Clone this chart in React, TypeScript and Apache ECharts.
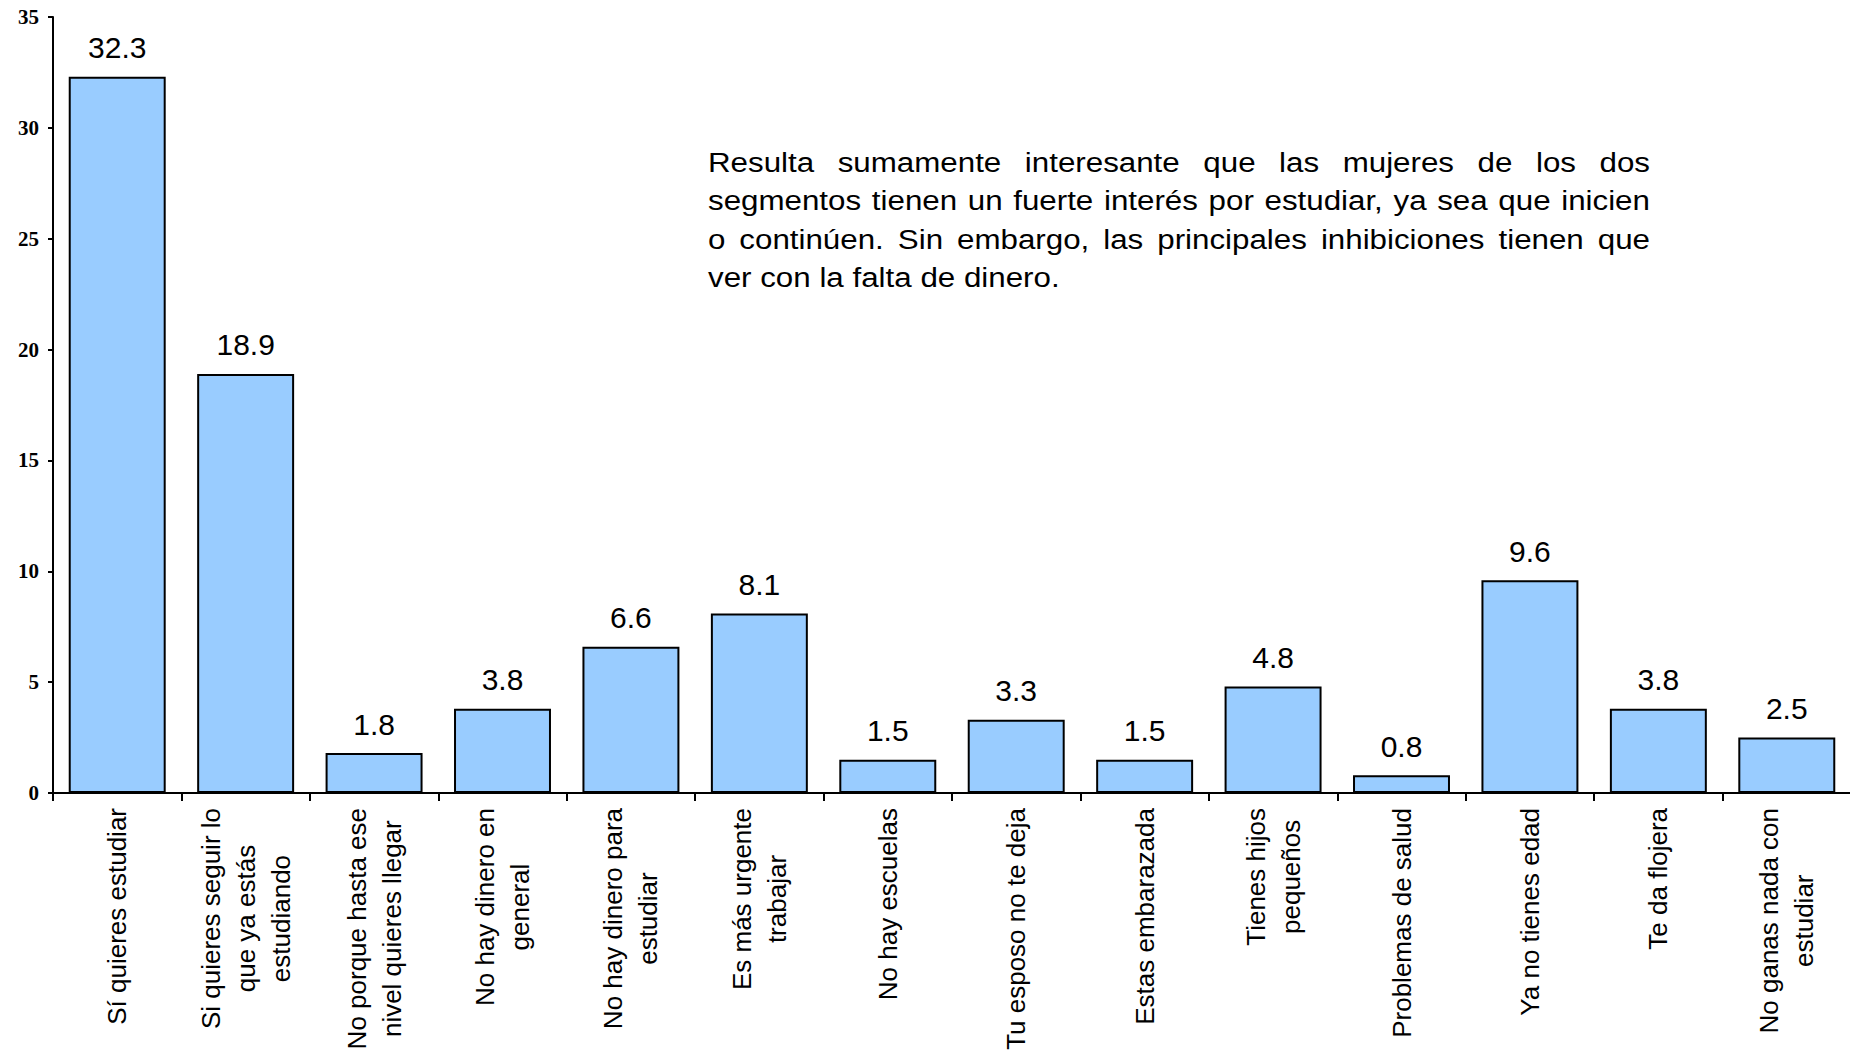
import React, { useEffect, useRef } from 'react';
import * as echarts from 'echarts';

const categories: string[] = [
  'Sí quieres estudiar',
  'Si quieres seguir lo\nque ya estás\nestudiando',
  'No porque hasta ese\nnivel quieres llegar',
  'No hay dinero en\ngeneral',
  'No hay dinero para\nestudiar',
  'Es más urgente\ntrabajar',
  'No hay escuelas',
  'Tu esposo no te deja',
  'Estas embarazada',
  'Tienes hijos\npequeños',
  'Problemas de salud',
  'Ya no tienes edad',
  'Te da flojera',
  'No ganas nada con\nestudiar',
];

const values: number[] = [32.3, 18.9, 1.8, 3.8, 6.6, 8.1, 1.5, 3.3, 1.5, 4.8, 0.8, 9.6, 3.8, 2.5];

const yMin = 0;
const yMax = 35;
const yInterval = 5;

const noteLines: string[] = [
  'Resulta sumamente interesante que las mujeres de los dos',
  'segmentos tienen un fuerte interés por estudiar, ya sea que inicien',
  'o continúen. Sin embargo, las principales inhibiciones tienen que',
  'ver con la falta de dinero.',
];

const SANS = '"Liberation Sans", Arial, sans-serif';
const SERIF = '"Liberation Serif", "Times New Roman", serif';

export default function App() {
  const ref = useRef<HTMLDivElement>(null);

  useEffect(() => {
    document.body.style.margin = '0';
    const chart = echarts.init(ref.current!, null, { renderer: 'svg' });

    // justified paragraph, laid out word by word
    const noteSize = 27;
    const noteScale = 1.16;
    const noteLeft = 708;
    const noteRight = 1650;
    const baseline0 = 172;
    const lineStep = 38.4;
    const ctx = document.createElement('canvas').getContext('2d')!;
    ctx.font = `${noteSize}px "Liberation Sans"`;
    const avail = (noteRight - noteLeft) / noteScale;
    const noteChildren: any[] = [];
    noteLines.forEach((line, i) => {
      const words = line.split(' ');
      const y = baseline0 + i * lineStep - 0.347 * noteSize;
      const justify = i < noteLines.length - 1;
      const widths = words.map((w) => ctx.measureText(w).width);
      const total = widths.reduce((a, b) => a + b, 0);
      const gap = justify ? (avail - total) / (words.length - 1) : ctx.measureText(' ').width;
      let x = 0;
      words.forEach((w, j) => {
        noteChildren.push({
          type: 'text',
          x,
          y,
          style: {
            text: w,
            fontSize: noteSize,
            fontFamily: SANS,
            fill: '#000',
            align: 'left',
            verticalAlign: 'middle',
          },
        });
        x += widths[j] + gap;
      });
    });

    chart.setOption({
      animation: false,
      backgroundColor: '#fff',
      grid: {
        left: 53,
        top: 17,
        width: 1798,
        bottom: 262,
        containLabel: false,
        outerBoundsMode: 'none',
      },
      xAxis: {
        type: 'category',
        data: categories,
        axisLine: { show: true, lineStyle: { color: '#000', width: 2 } },
        axisTick: { show: true, length: 8, lineStyle: { color: '#000', width: 2 } },
        axisLabel: {
          interval: 0,
          rotate: 90,
          margin: 15,
          color: '#000',
          fontSize: 26,
          fontFamily: SANS,
          lineHeight: 35,
          formatter: (v: string) =>
            v
              .split('\n')
              .map((l) => `{c|${l}}`)
              .join('\n'),
          rich: {
            c: {
              align: 'center',
              fontSize: 26,
              fontFamily: SANS,
              lineHeight: 35,
              color: '#000',
            },
          },
        },
        splitLine: { show: false },
      },
      yAxis: {
        type: 'value',
        min: yMin,
        max: yMax,
        interval: yInterval,
        axisLine: { show: true, lineStyle: { color: '#000', width: 2 } },
        axisTick: { show: true, length: 5, lineStyle: { color: '#000', width: 2 } },
        axisLabel: {
          color: '#000',
          fontFamily: SERIF,
          fontWeight: 'bold',
          fontSize: 21,
          margin: 14,
        },
        splitLine: { show: false },
      },
      series: [
        {
          type: 'bar',
          data: values,
          barCategoryGap: '24.5%',
          itemStyle: { color: '#99CCFF', borderColor: '#000', borderWidth: 2 },
          label: {
            show: true,
            position: 'top',
            distance: 14,
            fontSize: 30,
            fontFamily: SANS,
            color: '#000',
            formatter: (p: any) => Number(p.value).toFixed(1),
          },
        },
      ],
      graphic: [
        {
          type: 'group',
          x: noteLeft,
          y: 0,
          scaleX: noteScale,
          children: noteChildren,
        },
      ],
    });

    return () => {
      chart.dispose();
    };
  }, []);

  return <div ref={ref} style={{ width: 1850, height: 1055 }} />;
}
